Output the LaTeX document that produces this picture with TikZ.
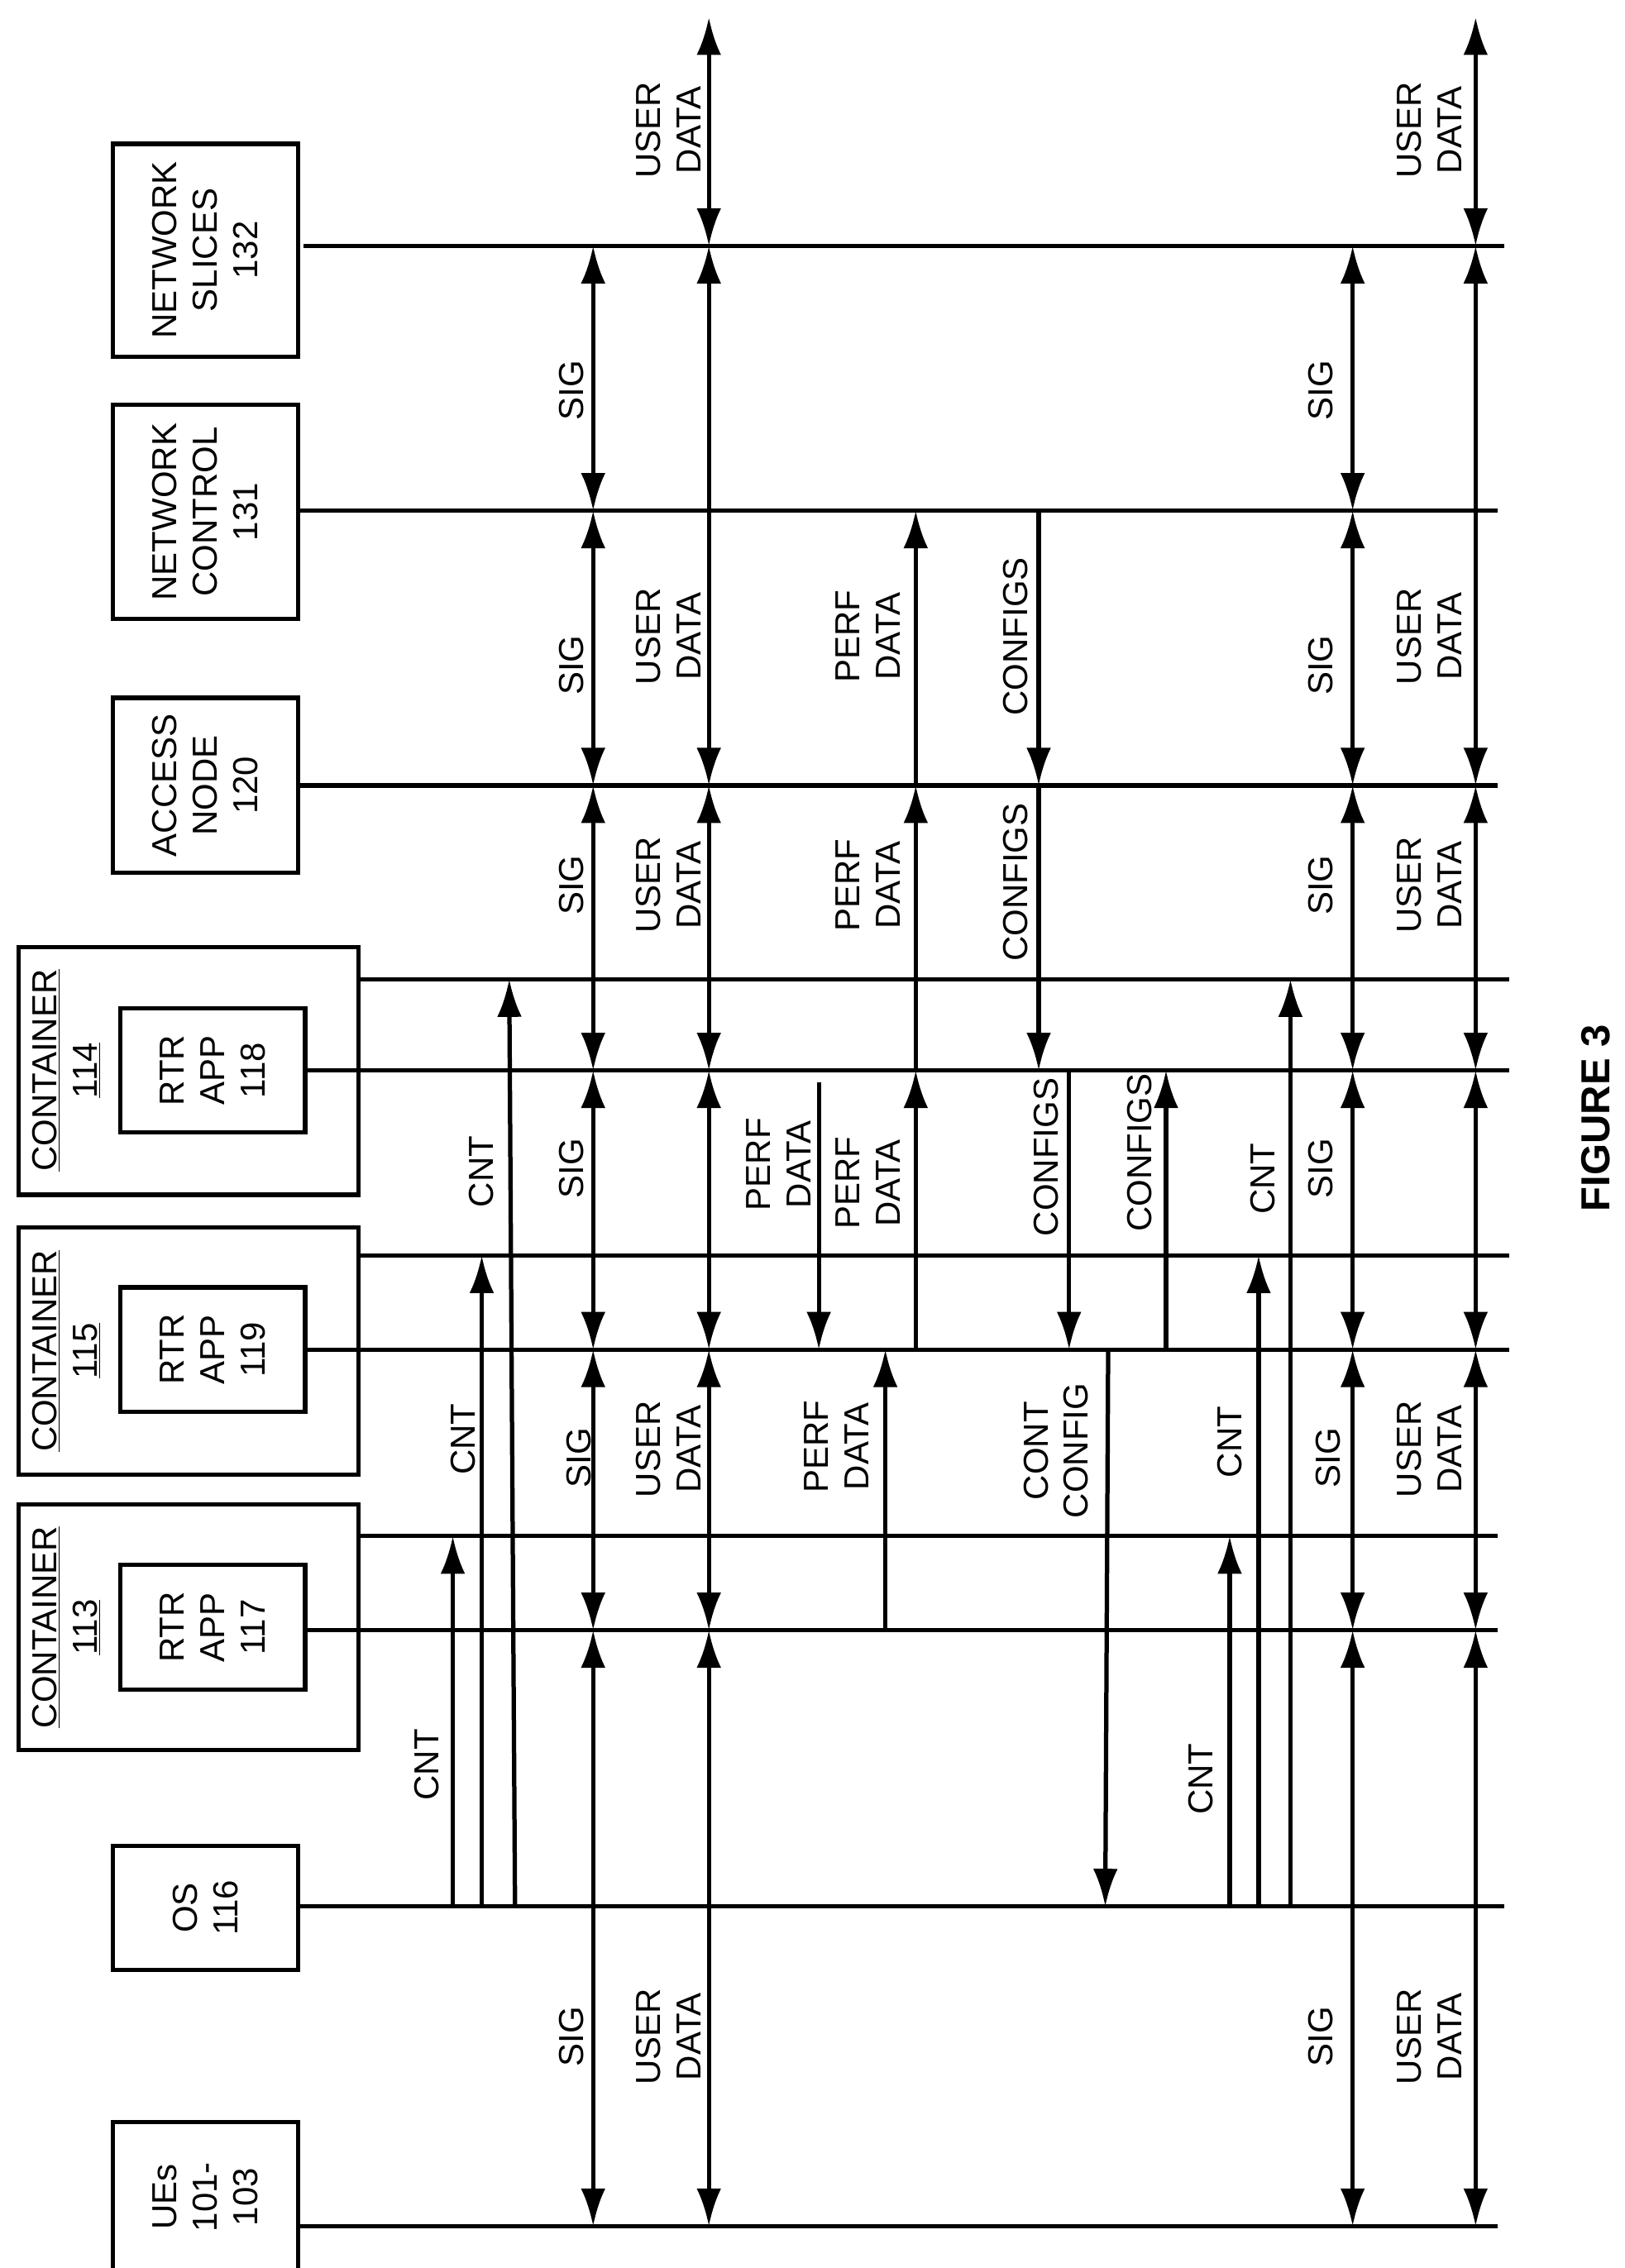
\documentclass[tikz,border=0pt]{standalone}
\usepackage{fontspec}
\setmainfont{Liberation Sans}
\usetikzlibrary{arrows.meta}
\begin{document}
\begin{tikzpicture}[x=1pt,y=-1pt,
  life/.style={line width=3pt},
  box/.style={draw,line width=3pt,rotate=90,align=center,inner sep=0pt,font=\fontsize{24}{28}\selectfont},
  lbl/.style={rotate=90,align=center,inner sep=1pt,font=\fontsize{24}{28}\selectfont},
  ar/.style={line width=3pt,-{Latex[length=26pt,width=17pt]}},
  dar/.style={line width=3pt,{Latex[length=26pt,width=17pt]}-{Latex[length=26pt,width=17pt]}},
  ln/.style={line width=3pt}]
\useasboundingbox (0,0) rectangle (1123,1568);
% boxes
\node[box,minimum width=147pt,minimum height=128pt] (ns) at (142,173) {NETWORK\\SLICES\\132};
\node[box,minimum width=148pt,minimum height=128pt] (nc) at (142,354) {NETWORK\\CONTROL\\131};
\node[box,minimum width=121pt,minimum height=128pt] (an) at (142,543) {ACCESS\\NODE\\120};
\node[box,minimum width=171pt,minimum height=235pt] (c114) at (130.5,740.5) {};
\node[box,minimum width=86pt,minimum height=128pt] (r118) at (147,740) {RTR\\APP\\118};
\node[lbl] (t114) at (46,740) {\underline{CONTAINER}\\\underline{114}};
\node[box,minimum width=171pt,minimum height=235pt] (c115) at (130.5,934) {};
\node[box,minimum width=86pt,minimum height=128pt] (r119) at (147,933) {RTR\\APP\\119};
\node[lbl] (t115) at (46,934) {\underline{CONTAINER}\\\underline{115}};
\node[box,minimum width=170pt,minimum height=235pt] (c113) at (130.5,1125) {};
\node[box,minimum width=86pt,minimum height=128pt] (r117) at (147,1125) {RTR\\APP\\117};
\node[lbl] (t113) at (46,1125) {\underline{CONTAINER}\\\underline{113}};
\node[box,minimum width=86pt,minimum height=128pt] (os) at (142,1319) {OS\\116};
\node[box,minimum width=104pt,minimum height=128pt] (ue) at (142,1519) {UEs\\101-\\103};
\node[rotate=90,font=\bfseries\fontsize{28}{32}\selectfont] (fig) at (1103,773) {FIGURE 3};
% lifelines
\def\yNS{170}\def\yNC{353}\def\yAN{543}\def\yCa{677}\def\yRa{740}
\def\yCb{868}\def\yRb{933}\def\yCc{1062}\def\yRc{1127}\def\yOS{1318}\def\yUE{1539}
\draw[life] (210,\yNS) -- (1040,\yNS);
\draw[life] (206,\yNC) -- (1035,\yNC);
\draw[life] (206,\yAN) -- (1035,\yAN);
\draw[life] (248,\yCa) -- (1043,\yCa);
\draw[life] (211,\yRa) -- (1043,\yRa);
\draw[life] (248,\yCb) -- (1043,\yCb);
\draw[life] (211,\yRb) -- (1043,\yRb);
\draw[life] (248,\yCc) -- (1035,\yCc);
\draw[life] (211,\yRc) -- (1035,\yRc);
\draw[life] (206,\yOS) -- (1040,\yOS);
\draw[life] (206,\yUE) -- (1035,\yUE);
% SIG and USER DATA
\foreach \x in {410,935}{
  \foreach \a/\b in {\yNS/\yNC,\yNC/\yAN,\yAN/\yRa,\yRa/\yRb,\yRb/\yRc,\yRc/\yUE}
    \draw[dar] (\x,\a) -- (\x,\b);
}
\foreach \x in {490,1020}{
  \foreach \a/\b in {12/\yNS,\yNS/\yAN,\yAN/\yRa,\yRa/\yRb,\yRb/\yRc,\yRc/\yUE}
    \draw[dar] (\x,\a) -- (\x,\b);
}
\foreach \x/\o in {395/0,913/0}{
  \node[lbl] at (\x,270) {SIG};
  \node[lbl] at (\x,460) {SIG};
  \node[lbl] at (\x,612) {SIG};
  \node[lbl] at (\x,808) {SIG};
  \node[lbl] at (\x+5,1008) {SIG};
  \node[lbl] at (\x,1408) {SIG};
}
\foreach \x in {462,988}{
  \node[lbl] at (\x,90) {USER\\DATA};
  \node[lbl] at (\x,440) {USER\\DATA};
  \node[lbl] at (\x,612) {USER\\DATA};
  \node[lbl] at (\x,1002) {USER\\DATA};
  \node[lbl] at (\x,1408) {USER\\DATA};
}
% PERF DATA
\draw[ar] (633,\yRb) -- (633,\yRa);
\draw[ar] (633,\yRa) -- (633,\yAN);
\draw[ar] (633,\yAN) -- (633,\yNC);
\draw[ar] (566,748) -- (566,\yRb);
\draw[ar] (612,\yRc) -- (612,\yRb);
\node[lbl] at (600,440) {PERF\\DATA};
\node[lbl] at (600,612) {PERF\\DATA};
\node[lbl] at (538,805) {PERF\\DATA};
\node[lbl] at (600,818) {PERF\\DATA};
\node[lbl] at (578,1000) {PERF\\DATA};
% CONFIGS
\draw[ar] (718,\yNC) -- (718,\yAN);
\draw[ar] (718,\yAN) -- (718,\yRa);
\draw[ar] (739,\yRa) -- (739,\yRb);
\draw[ar] (806,\yRb) -- (806,\yRa);
\draw[ar] (766,\yRb) -- (764,\yOS);
\node[lbl] at (702,440) {CONFIGS};
\node[lbl] at (702,610) {CONFIGS};
\node[lbl] at (723,800) {CONFIGS};
\node[lbl] at (788,797) {CONFIGS};
\node[lbl] at (730,1003) {CONT\\CONFIG};
% CNT
\draw[ar] (313,\yOS) -- (313,\yCc);
\draw[ar] (333,\yOS) -- (333,\yCb);
\draw[ar] (356,\yOS) -- (352,\yCa);
\draw[ar] (850,\yOS) -- (850,\yCc);
\draw[ar] (870,\yOS) -- (870,\yCb);
\draw[ar] (892,\yOS) -- (892,\yCa);
\node[lbl] at (295,1220) {CNT};
\node[lbl] at (320,995) {CNT};
\node[lbl] at (333,810) {CNT};
\node[lbl] at (830,1230) {CNT};
\node[lbl] at (850,997) {CNT};
\node[lbl] at (873,815) {CNT};
\end{tikzpicture}
\end{document}
